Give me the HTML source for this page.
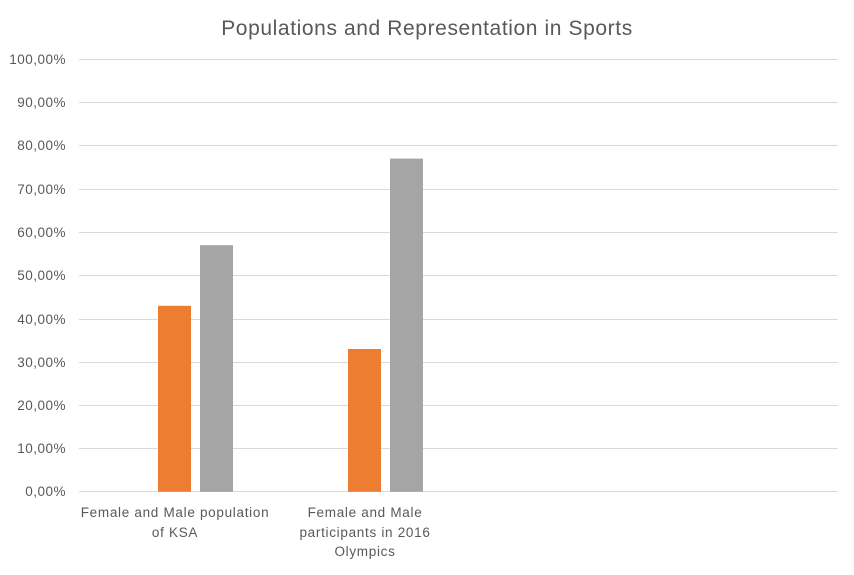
<!DOCTYPE html>
<html><head><meta charset="utf-8"><style>
body{margin:0;background:#fff;}
svg text{font-family:"Liberation Sans",sans-serif;fill:#595959;}
</style></head><body>
<svg width="854" height="570" xmlns="http://www.w3.org/2000/svg">
<rect width="854" height="570" fill="#fff"/>
<text x="427" y="35" font-size="21" letter-spacing="0.6" text-anchor="middle">Populations and Representation in Sports</text>
<g stroke="#d9d9d9" stroke-width="1">
<line x1="79" x2="838" y1="59.5" y2="59.5"/>
<line x1="79" x2="838" y1="102.5" y2="102.5"/>
<line x1="79" x2="838" y1="145.5" y2="145.5"/>
<line x1="79" x2="838" y1="189.5" y2="189.5"/>
<line x1="79" x2="838" y1="232.5" y2="232.5"/>
<line x1="79" x2="838" y1="275.5" y2="275.5"/>
<line x1="79" x2="838" y1="319.5" y2="319.5"/>
<line x1="79" x2="838" y1="362.5" y2="362.5"/>
<line x1="79" x2="838" y1="405.5" y2="405.5"/>
<line x1="79" x2="838" y1="448.5" y2="448.5"/>
<line x1="79" x2="838" y1="491.5" y2="491.5"/>
</g>
<g font-size="13.5" letter-spacing="0.5" text-anchor="end">
<text x="66" y="64">100,00%</text>
<text x="66" y="107">90,00%</text>
<text x="66" y="150">80,00%</text>
<text x="66" y="194">70,00%</text>
<text x="66" y="237">60,00%</text>
<text x="66" y="280">50,00%</text>
<text x="66" y="324">40,00%</text>
<text x="66" y="367">30,00%</text>
<text x="66" y="410">20,00%</text>
<text x="66" y="453">10,00%</text>
<text x="66" y="496">0,00%</text>
</g>
<rect x="158" y="305.8" width="33" height="186" fill="#ed7d31"/>
<rect x="200" y="245.2" width="33" height="246.6" fill="#a5a5a5"/>
<rect x="348" y="349" width="33" height="142.8" fill="#ed7d31"/>
<rect x="390" y="158.6" width="33" height="333.2" fill="#a5a5a5"/>
<g font-size="13.5" letter-spacing="0.7" text-anchor="middle">
<text x="175" y="517">Female and Male population</text>
<text x="175" y="537">of KSA</text>
<text x="365" y="517">Female and Male</text>
<text x="365" y="537">participants in 2016</text>
<text x="365" y="556">Olympics</text>
</g>
</svg>
</body></html>
